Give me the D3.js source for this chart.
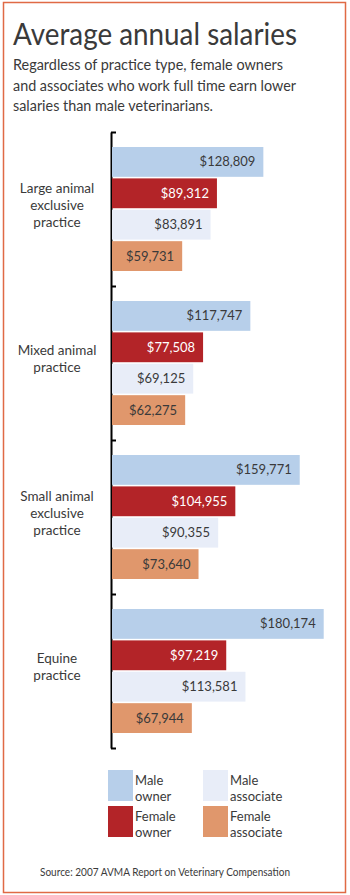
<!DOCTYPE html>
<html>
<head>
<meta charset="UTF-8">
<script src="https://d3js.org/d3.v7.min.js"></script>
<style>
  body { margin: 0; background: #fff; }
  text { font-family: Lato, "Open Sans", sans-serif; fill: #3a3a3a; }
</style>
</head>
<body>
<script>
var width = 350, height = 895;

// chart data
var categories = ['Large animal exclusive practice', 'Mixed animal practice',
                  'Small animal exclusive practice', 'Equine practice'];
var categoryLines = [['Large animal', 'exclusive', 'practice'],
                     ['Mixed animal', 'practice'],
                     ['Small animal', 'exclusive', 'practice'],
                     ['Equine', 'practice']];
var series = ['Male owner', 'Female owner', 'Male associate', 'Female associate'];
var maleOwner     = [128809, 117747, 159771, 180174];
var femaleOwner   = [89312, 77508, 104955, 97219];
var maleAssociate = [83891, 69125, 90355, 113581];
var femaleAssoc   = [59731, 62275, 73640, 67944];
var colors = ['#b7cfea', '#b32428', '#e8edf8', '#e0976c'];
var labelColors = ['#3a3a3a', '#ffffff', '#3a3a3a', '#3a3a3a'];
var legendLines = [['Male', 'owner'], ['Female', 'owner'], ['Male', 'associate'], ['Female', 'associate']];

var values = [maleOwner, femaleOwner, maleAssociate, femaleAssoc];

var svg = d3.select('body').append('svg').attr('width', width).attr('height', height);

// frame
svg.append('rect').attr('x', 3.5).attr('y', 2.5).attr('width', 342).attr('height', 890)
  .attr('fill', 'none').attr('stroke', '#e06a45').attr('stroke-width', 1.5);

// title + subtitle
svg.append('text').attr('x', 13).attr('y', 45).attr('font-size', 31)
  .attr('textLength', 284).attr('lengthAdjust', 'spacingAndGlyphs')
  .text('Average annual salaries');

var sub = [['Regardless of practice type, female owners', 270],
           ['and associates who work full time earn lower', 283],
           ['salaries than male veterinarians.', 200]];
svg.selectAll('.sub').data(sub).join('text').attr('class', 'sub')
  .attr('x', 13).attr('y', function(d, i) { return 70 + i * 20.5 })
  .attr('font-size', 14.5)
  .attr('textLength', function(d) { return d[1] })
  .attr('lengthAdjust', 'spacingAndGlyphs')
  .text(function(d) { return d[0] });

// scales
var x = d3.scaleLinear().domain([0, 200000]).range([112, 347]);
var y = d3.scaleBand().domain(categories).range([132, 748]);
var yInner = d3.scaleBand().domain(series).range([15, 139]).paddingInner(0.05);
var yTicks = d3.scaleLinear().domain([0, categories.length]).range([132, 748]);

// axis with ticks at group boundaries
var axis = svg.append('g').attr('transform', 'translate(111,0)')
  .call(d3.axisRight(yTicks).tickValues(d3.range(0, categories.length + 1))
    .tickSize(5).tickSizeOuter(0).tickFormat(''));
axis.select('.domain').attr('stroke', '#000').attr('stroke-width', 2);
axis.selectAll('.tick line').attr('stroke', '#000').attr('stroke-width', 2);

// bars
var groups = svg.selectAll('.grp').data(categories).join('g').attr('class', 'grp')
  .attr('transform', function(d) { return 'translate(0,' + y(d) + ')' });

groups.each(function(cat, ci) {
  var g = d3.select(this);
  var rows = series.map(function(s, si) { return {s: s, si: si, v: values[si][ci]} });
  g.selectAll('rect').data(rows).join('rect')
    .attr('x', x(0))
    .attr('y', function(d) { return yInner(d.s) })
    .attr('width', function(d) { return x(d.v) - x(0) })
    .attr('height', yInner.bandwidth())
    .attr('fill', function(d) { return colors[d.si] });
  g.selectAll('.val').data(rows).join('text').attr('class', 'val')
    .attr('x', function(d) { return x(d.v) - 8 })
    .attr('y', function(d) { return yInner(d.s) + yInner.bandwidth() / 2 + 4.5 })
    .attr('text-anchor', 'end').attr('font-size', 13)
    .style('fill', function(d) { return labelColors[d.si] })
    .text(function(d) { return '$' + d3.format(',')(d.v) });
  // category label
  var lines = categoryLines[ci];
  var mid = (yInner.range()[0] + yInner.range()[1]) / 2;
  g.selectAll('.cat').data(lines).join('text').attr('class', 'cat')
    .attr('x', 57).attr('text-anchor', 'middle').attr('font-size', 13.5)
    .attr('y', function(d, i) { return mid + 0.5 + (i - (lines.length - 1) / 2) * 17 })
    .text(function(d) { return d });
});

// legend
var legX = [108, 108, 203, 203], legY = [770, 806, 770, 806];
var leg = svg.selectAll('.leg').data(series).join('g').attr('class', 'leg')
  .attr('transform', function(d, i) { return 'translate(' + legX[i] + ',' + legY[i] + ')' });
leg.append('rect').attr('width', 25).attr('height', 31)
  .attr('fill', function(d, i) { return colors[i] });
leg.each(function(d, i) {
  d3.select(this).selectAll('text').data(legendLines[i]).join('text')
    .attr('x', 27).attr('y', function(t, j) { return 15 + j * 16 })
    .attr('font-size', 13).text(function(t) { return t });
});

// source
svg.append('text').attr('x', 165).attr('y', 876).attr('text-anchor', 'middle')
  .attr('font-size', 10.5).attr('textLength', 250).attr('lengthAdjust', 'spacingAndGlyphs')
  .text('Source: 2007 AVMA Report on Veterinary Compensation');
</script>
</body>
</html>
